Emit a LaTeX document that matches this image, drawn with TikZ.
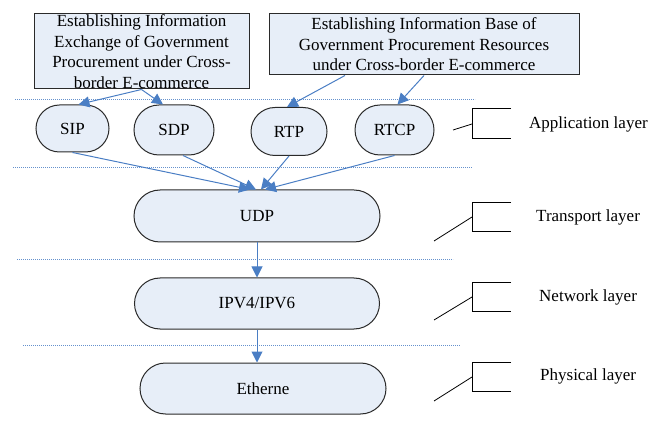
\documentclass[tikz,border=0pt]{standalone}
\usepackage{fontspec}
\setmainfont{Liberation Serif}
\usetikzlibrary{shapes.misc,arrows.meta}
\definecolor{fillb}{HTML}{E7EEF8}
\definecolor{lineb}{HTML}{4A7EC4}
\definecolor{edge}{HTML}{2A2A2A}
\begin{document}
\begin{tikzpicture}[x=1pt,y=-1pt,
  txt/.style={font=\fontsize{17}{20.5}\selectfont},
  infobox/.style={draw=edge,line width=1pt,fill=fillb,inner sep=0pt,align=center,txt},
  proto/.style={rounded rectangle,draw=edge,line width=1pt,fill=fillb,inner sep=0pt,txt},
  conn/.style={draw=lineb,line width=1pt,-{Triangle[length=11pt,width=11pt]}},
  sep/.style={draw=lineb!85!white,line width=0.9pt,dash pattern=on 1.2pt off 0.8pt},
  callout/.style={draw=black,line width=0.8pt},
  lay/.style={txt,anchor=west,inner sep=0pt}]
\useasboundingbox (0,0) rectangle (650,427);
% separators
\draw[sep] (15,99) -- (475,99);
\draw[sep] (13,167) -- (472,167);
\draw[sep] (17,259) -- (453,259);
\draw[sep] (23,345) -- (460,345);
% top boxes
\node[infobox,minimum width=215pt,minimum height=75pt] (b1) at (141.5,51.5)
  {Establishing Information\\Exchange of Government\\Procurement under Cross-\\border E-commerce};
\node[infobox,minimum width=310pt,minimum height=61pt] (b2) at (424,44.5)
  {Establishing Information Base of\\Government Procurement Resources\\under Cross-border E-commerce};
% protocols
\node[proto,minimum width=73pt,minimum height=47pt] (sip) at (72.5,128.5) {SIP};
\node[proto,minimum width=80pt,minimum height=50pt] (sdp) at (174,130) {SDP};
\node[proto,minimum width=76pt,minimum height=48pt] (rtp) at (289,131.5) {RTP};
\node[proto,minimum width=79pt,minimum height=50pt] (rtcp) at (394.5,130) {RTCP};
\node[proto,minimum width=246pt,minimum height=52pt] (udp) at (257,216) {UDP};
\node[proto,minimum width=245pt,minimum height=51pt] (ip) at (257,303.5) {IPV4/IPV6};
\node[proto,minimum width=246pt,minimum height=51pt] (eth) at (263,388.5) {Etherne};
% connectors
\draw[conn] (b1.south) -- ([xshift=6pt]sip.north);
\draw[conn] (b1.south) -- ([xshift=-11pt]sdp.north);
\draw[conn] ([xshift=-79pt]b2.south) -- ([xshift=-2pt]rtp.north);
\draw[conn] (b2.south) -- ([xshift=3pt]rtcp.north);
\draw[conn] (sip.south) -- ([xshift=-7pt]udp.north);
\draw[conn] ([xshift=9pt]sdp.south) -- ([xshift=-1pt]udp.north);
\draw[conn] (rtp.south) -- ([xshift=4pt]udp.north);
\draw[conn] (rtcp.south) -- ([xshift=8pt]udp.north);
\draw[conn] (udp.south) -- (ip.north);
\draw[conn] (ip.south) -- ([xshift=-6pt]eth.north);
% callouts
\draw[callout] (511,108) -- (472,108) -- (472,138) -- (511,138);
\draw[callout] (453,130) -- (472,124);
\draw[callout] (511,202) -- (472,202) -- (472,231) -- (511,231);
\draw[callout] (434,241) -- (472,217);
\draw[callout] (511,282) -- (472,282) -- (472,311) -- (511,311);
\draw[callout] (434,320) -- (472,297);
\draw[callout] (511,362) -- (472,362) -- (472,391) -- (511,391);
\draw[callout] (434,401) -- (472,377);
% layer labels
\node[lay] (la) at (529,124) {Application layer};
\node[lay] (lt) at (536,217) {Transport layer};
\node[lay] (ln) at (539,297) {Network layer};
\node[lay] (lp) at (540,376) {Physical layer};
\end{tikzpicture}
\end{document}
